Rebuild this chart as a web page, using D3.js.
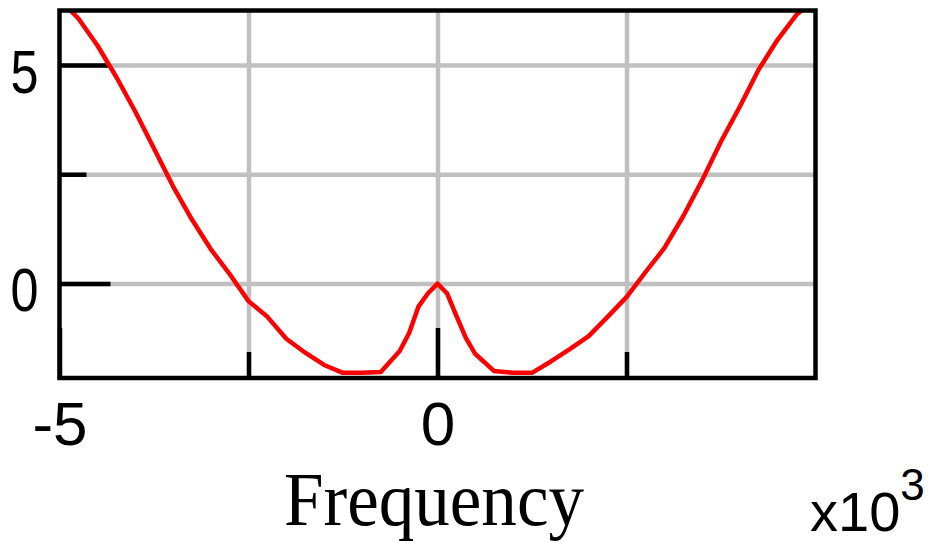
<!DOCTYPE html>
<html>
<head>
<meta charset="utf-8">
<script src="https://cdn.jsdelivr.net/npm/d3@7"></script>
<style>
  html, body { margin: 0; padding: 0; background: #fff; }
  svg { display: block; }
  .lbl { font-family: "Liberation Sans", Arial, sans-serif; fill: #000; }
</style>
</head>
<body>
<div id="chart"></div>
<script>
  // données (fréquence en x10^3)
  var freq = [-5, -4.75, -4.5, -4.25, -4, -3.75, -3.5, -3.25, -3, -2.75, -2.5, -2.25, -2, -1.75, -1.5, -1.25, -1, -0.75,
              -0.5, -0.375, -0.25, -0.125, 0, 0.125, 0.25, 0.375, 0.5, 0.75, 1, 1.25, 1.5, 1.75, 2, 2.25, 2.5, 2.75,
              3, 3.25, 3.5, 3.75, 4, 4.25, 4.5, 4.75, 5];
  var magnitude = [6.5, 6.06, 5.45, 4.73, 3.94, 3.09, 2.23, 1.47, 0.79, 0.22, -0.40, -0.76, -1.26, -1.58, -1.86, -2.04, -2.04, -2.02,
                   -1.54, -1.13, -0.52, -0.22, 0, -0.22, -0.74, -1.24, -1.61, -2.0, -2.04, -2.04, -1.78, -1.50, -1.20, -0.76, -0.31, 0.26,
                   0.81, 1.54, 2.36, 3.25, 4.05, 4.90, 5.58, 6.15, 6.5];
  var xGrid = [-2.5, 0, 2.5];
  var yGrid = [0, 2.5, 5];
  var xMajor = [-5, 0];
  var xMinor = [-2.5, 2.5];
  var yMajor = [0, 5];
  var yMinor = [2.5];
  var xDomain = [-5, 5];
  var yDomain = [-2.158, 6.244];

  var Graph = { left: 59.5, top: 10.5, width: 756, height: 367.5 };

  var svg = d3.select("#chart").append("svg")
      .attr("width", 935)
      .attr("height", 542);

  var g = svg.append("g")
      .attr("transform", `translate(${Graph.left},${Graph.top})`);

  var x = d3.scaleLinear().domain(xDomain).range([0, Graph.width]);
  var y = d3.scaleLinear().domain(yDomain).range([Graph.height, 0]);
  var noLabel = () => "";
  var fmt = d => d < 0 ? "-" + Math.abs(d) : String(d);

  // grille
  g.append("g")
      .attr("transform", `translate(0,${Graph.height})`)
      .call(d3.axisBottom(x).tickValues(xGrid).tickSize(-Graph.height).tickFormat(noLabel))
      .call(a => a.selectAll("line").attr("stroke", "#c0c0c0").attr("stroke-width", 4.5));
  g.append("g")
      .call(d3.axisLeft(y).tickValues(yGrid).tickSize(-Graph.width).tickFormat(noLabel))
      .call(a => a.selectAll("line").attr("stroke", "#c0c0c0").attr("stroke-width", 4.5));

  // graduations noires vers l'intérieur
  function blackTicks(a) {
    a.selectAll(".tick line").attr("stroke", "#000").attr("stroke-width", 4.5);
    a.selectAll(".tick text")
        .attr("class", "lbl")
        .attr("font-size", 62)
        .attr("font-family", null)
        .attr("text-anchor", "middle");
  }
  g.append("g")
      .attr("transform", `translate(0,${Graph.height})`)
      .call(d3.axisBottom(x).tickValues(xMajor).tickSizeInner(-50).tickSizeOuter(0).tickPadding(23).tickFormat(fmt))
      .call(blackTicks);
  g.append("g")
      .attr("transform", `translate(0,${Graph.height})`)
      .call(d3.axisBottom(x).tickValues(xMinor).tickSizeInner(-26).tickSizeOuter(0).tickFormat(noLabel))
      .call(blackTicks);
  g.append("g")
      .call(d3.axisLeft(y).tickValues(yMajor).tickSizeInner(-51).tickSizeOuter(0).tickPadding(35).tickFormat(fmt))
      .call(blackTicks)
      .call(a => a.selectAll(".tick text").attr("dy", "0.44em").attr("textLength", 28).attr("lengthAdjust", "spacingAndGlyphs"));
  g.append("g")
      .call(d3.axisLeft(y).tickValues(yMinor).tickSizeInner(-27).tickSizeOuter(0).tickFormat(noLabel))
      .call(blackTicks);

  g.selectAll(".domain").remove();

  // courbe
  g.append("clipPath").attr("id", "clip")
    .append("rect").attr("width", Graph.width).attr("height", Graph.height);
  g.append("path")
      .datum(freq.map((f, i) => [f, magnitude[i]]))
      .attr("clip-path", "url(#clip)")
      .attr("fill", "none")
      .attr("stroke", "#ff0000")
      .attr("stroke-width", 4.5)
      .attr("stroke-linejoin", "round")
      .attr("d", d3.line().x(d => x(d[0])).y(d => y(d[1])));

  // cadre
  g.append("rect")
      .attr("width", Graph.width)
      .attr("height", Graph.height)
      .attr("fill", "none")
      .attr("stroke", "#000")
      .attr("stroke-width", 4.5);

  // titre de l'axe x
  svg.append("text")
      .attr("x", 434)
      .attr("y", 525)
      .attr("text-anchor", "middle")
      .attr("font-family", "'Liberation Serif', 'DejaVu Serif', serif")
      .attr("font-size", 76)
      .attr("textLength", 300)
      .attr("lengthAdjust", "spacingAndGlyphs")
      .attr("fill", "#000")
      .text("Frequency");

  // multiplicateur
  var mult = svg.append("text")
      .attr("class", "lbl")
      .attr("x", 810)
      .attr("y", 531)
      .attr("font-size", 56);
  mult.append("tspan").text("x10");
  mult.append("tspan").attr("font-size", 44).attr("dy", -31).text("3");
</script>
</body>
</html>
